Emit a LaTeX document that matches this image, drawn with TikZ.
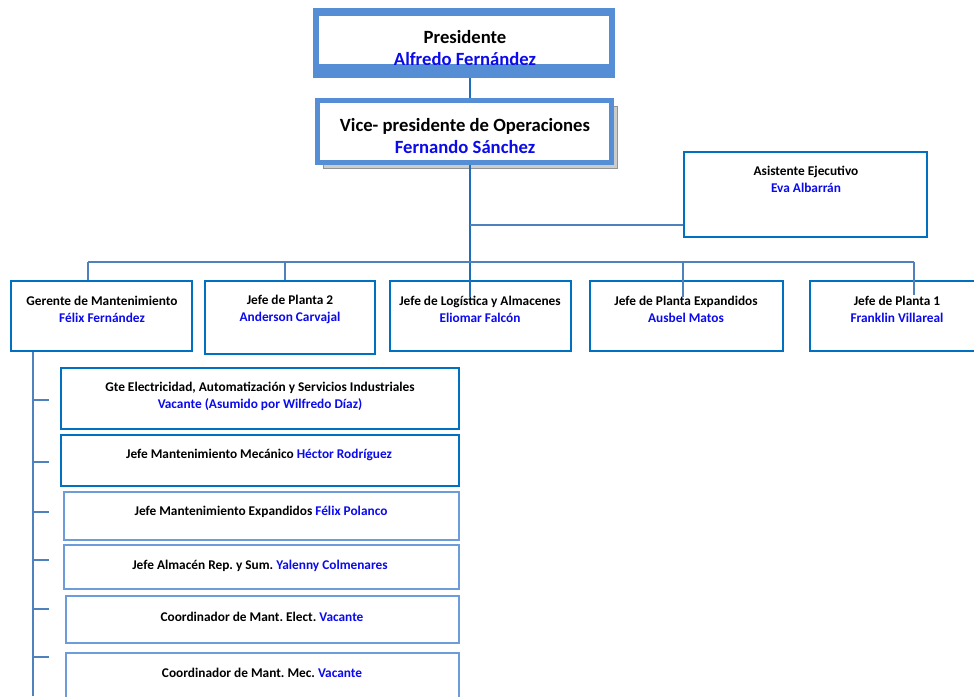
\documentclass[tikz,border=0pt]{standalone}
\usepackage{fontspec}
\setmainfont{Carlito}
\frenchspacing
\usetikzlibrary{fit,shadows}

\definecolor{topblue}{RGB}{85,142,213}
\definecolor{unitblue}{RGB}{0,112,192}
\definecolor{liteblue}{RGB}{108,156,218}
\definecolor{linkblue}{RGB}{79,129,189}
\definecolor{trunkblue}{RGB}{30,110,185}
\definecolor{nm}{RGB}{10,10,235}

\begin{document}
\begin{tikzpicture}[x=0.75pt,y=-0.75pt,
    topbox/.style={draw=topblue, line width=4pt, inner sep=0pt},
    unitbox/.style={draw=unitblue, line width=1.5pt, inner sep=0pt},
    litebox/.style={draw=liteblue, line width=1.5pt, inner sep=0pt},
    role/.style={font=\bfseries\fontsize{10}{12.75}\selectfont, align=center, inner sep=0pt},
    bigrole/.style={font=\bfseries\fontsize{14}{16.5}\selectfont, align=center, inner sep=0pt},
    link/.style={draw=linkblue, line width=1.5pt},
    trunk/.style={draw=trunkblue, line width=1.5pt}]
    \clip (0,0) rectangle (974,696);

% top
\node[fill=topblue, inner sep=0pt, fit={(313,8) (615,78)}] (pres) {};
\node[fill=white, inner sep=0pt, fit={(319,16) (609,64)}] (presIn) {};
\begin{scope}
    \clip (presIn.south west) rectangle (presIn.north east);
    \node[bigrole] (presT) at (465,48) {Presidente\\\color{nm}Alfredo Fernández};
\end{scope}

\node[topbox, fill=white, drop shadow={shadow xshift=4.5pt, shadow yshift=-4.5pt, fill=gray!40, draw=gray!85, line width=1pt, opacity=1},
      fit={(317.5,100.5) (611.5,162.5)}] (vp) {};
\node[bigrole] (vpT) at (465,136) {Vice- presidente de Operaciones\\\color{nm}Fernando Sánchez};

\node[unitbox, fit={(684,152) (927,237)}] (asis) {};
\node[role] (asisT) at (806,179) {Asistente Ejecutivo\\\color{nm}Eva Albarrán};

% second level
\node[unitbox, fit={(11,281) (192,351)}] (gm) {};
\node[unitbox, fit={(205,281) (375,354)}] (jp2) {};
\node[unitbox, fit={(390,281) (571,351)}] (jlog) {};
\node[unitbox, fit={(590,281) (783,351)}] (jpe) {};
\node[unitbox, fit={(810,281) (980,351)}] (jp1) {};

\node[role] (gmT) at (102,309) {Gerente de Mantenimiento\\\color{nm}Félix Fernández};
\node[role] (jp2T) at (290,309) {Jefe de Planta 2\\\color{nm}Anderson Carvajal};
\node[role] (jlogT) at (480,309) {Jefe de Logística y Almacenes\\\color{nm}Eliomar Falcón};
\node[role] (jpeT) at (686,309) {Jefe de Planta Expandidos\\\color{nm}Ausbel Matos};
\node[role] (jp1T) at (897,309) {Jefe de Planta 1\\\color{nm}Franklin Villareal};

% maintenance
\node[unitbox, fit={(61,368) (459,429)}] (s1) {};
\node[unitbox, fit={(61,435) (459,486)}] (s2) {};
\node[litebox, fit={(64,492) (459,540)}] (s3) {};
\node[litebox, fit={(64,545) (459,589)}] (s4) {};
\node[litebox, fit={(66,596) (459,643)}] (s5) {};
\node[litebox, fit={(66,653) (459,705)}] (s6) {};

\node[role] (s1T) at (260,396) {Gte Electricidad, Automatización y Servicios Industriales\\\color{nm}Vacante (Asumido por Wilfredo Díaz)};
\node[role] (s2T) at (259,455) {Jefe Mantenimiento Mecánico \textcolor{nm}{Héctor Rodríguez}};
\node[role] (s3T) at (261,512) {Jefe Mantenimiento Expandidos \textcolor{nm}{Félix Polanco}};
\node[role] (s4T) at (260,566) {Jefe Almacén Rep. y Sum. \textcolor{nm}{Yalenny Colmenares}};
\node[role] (s5T) at (262,617) {Coordinador de Mant. Elect. \textcolor{nm}{Vacante}};
\node[role] (s6T) at (262,673) {Coordinador de Mant. Mec. \textcolor{nm}{Vacante}};

% connectors
\coordinate (bus) at (470,262);
\coordinate (asisJ) at (470,225);
\coordinate (trunkEnd) at (470,297);
\coordinate (spineEnd) at (33,696);

\draw[trunk] (pres.south -| bus) -- (vp.north -| bus);
\draw[trunk] (vp.south -| bus) -- (trunkEnd);
\draw[link] (asisJ) -- (asisJ -| asis.west);
\draw[link] (bus -| 88,0) -- (bus -| 914,0);
\draw[link] (bus -| 88,0) -- (gm.north -| 88,0);
\draw[link] (bus -| 285,0) -- (jp2.north -| 285,0);
\draw[link] (bus -| 683,0) -- (683,297);
\draw[link] (bus -| 914,0) -- (914,295);

\draw[link] (gm.south -| spineEnd) -- (spineEnd);
\foreach \y [count=\i] in {400,462,512,560,609,657}{
    \coordinate (tick\i) at (33,\y);
    \draw[link] (tick\i) -- ++(16,0);
}

\end{tikzpicture}
\end{document}
